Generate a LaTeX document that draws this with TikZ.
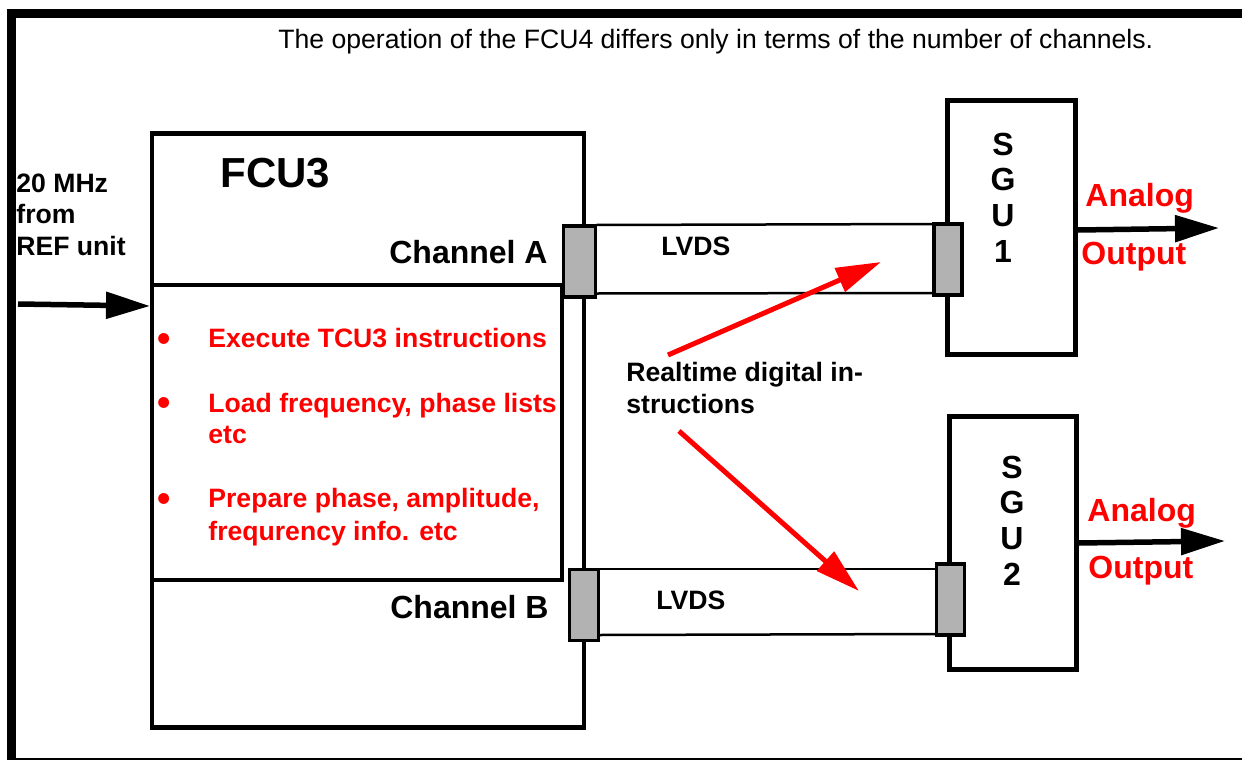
\documentclass[tikz,border=0pt]{standalone}
\usepackage{fontspec}
\setmainfont{Liberation Sans}
\usetikzlibrary{arrows.meta}

\begin{document}
\begin{tikzpicture}[x=0.5pt,y=-0.5pt,
        txt/.style={inner sep=0pt,font=\fontsize{13.3}{16}\selectfont},
        btxt/.style={inner sep=0pt,font=\fontsize{13.3}{16}\selectfont\bfseries},
        redtxt/.style={btxt,text=red},
        dot/.style={inner sep=0pt,text=red,font=\fontsize{19}{22}\selectfont\bfseries},
        big/.style={inner sep=0pt,font=\fontsize{16}{19}\selectfont\bfseries},
        unitbox/.style={draw,line width=2.5pt,inner sep=0pt},
        port/.style={draw,fill=gray!60,line width=1.75pt,inner sep=0pt,minimum height=35.5pt},
        tube/.style={line width=1.25pt},
        bigarrow/.style={line width=2.75pt,-{Triangle[length=22pt,width=13pt]}},
        redarrow/.style={red,line width=2.5pt,-{Triangle[length=22.5pt,width=12.5pt]}}]
        \useasboundingbox (0,0) rectangle (1242,760);

        % frame
        \draw[line width=4.5pt] (11.5,9) -- (11.5,760);
        \draw[line width=4.5pt] (7,13.5) -- (1242,13.5);
        \draw[line width=1pt] (7,758.5) -- (1242,758.5);

        \node[txt,anchor=base west] (note) at (278,48) {The operation of the FCU4 differs only in terms of the number of channels.};

        % FCU3
        \draw[line width=2.25pt] (152,133.5) rectangle (584,727.5);
        \draw[line width=2pt] (152,285) -| (562,580) -- (152,580);
        \node[inner sep=0pt,font=\fontsize{21}{25}\selectfont\bfseries,anchor=base west] (fcu) at (220,187) {FCU3};
        \node[big,anchor=base east] (cha) at (548,263) {Channel A};
        \node[big,anchor=base east] (chb) at (549,618) {Channel B};

        \node[dot] (dot1) at (164.5,342.5) {•};
        \node[redtxt,anchor=base west] (task1) at (208,347) {Execute TCU3 instructions};
        \node[dot] (dot2) at (164.5,407) {•};
        \node[redtxt,anchor=base west] (task2) at (208,412) {Load frequency, phase lists};
        \node[redtxt,anchor=base west] (task2b) at (208,443) {etc};
        \node[dot] (dot3) at (164.5,502.5) {•};
        \node[redtxt,anchor=base west] (task3) at (208,507) {Prepare phase, amplitude,};
        \node[redtxt,anchor=base west] (task3b) at (208,540) {frequrency info. etc};

        % reference clock in
        \node[btxt,anchor=base west] (ref1) at (16,192) {20 MHz};
        \node[btxt,anchor=base west] (ref2) at (16,223) {from};
        \node[btxt,anchor=base west] (ref3) at (16,255) {REF unit};
        \coordinate (refsrc) at (18,304);
        \coordinate (fcuin) at (150,306);
        \draw[bigarrow] (refsrc) -- (fcuin);

        % SGU boxes
        \node[unitbox,minimum width=64pt,minimum height=127.25pt] (sgu1) at (1011.5,227.25) {};
        \node[unitbox,minimum width=63.25pt,minimum height=126.5pt] (sgu2) at (1012.75,543) {};
        \foreach \ch [count=\i] in {S,G,U,1}
            \node[big,anchor=base] (sa\i) at (1003,{155+35.7*(\i-1)}) {\ch};
        \foreach \ch [count=\i] in {S,G,U,2}
            \node[big,anchor=base] (sb\i) at (1012,{478+35.7*(\i-1)}) {\ch};

        % LVDS links
        \draw[tube] (596,225) -- (934,224);
        \draw[tube] (596,293.5) -- (934,293);
        \draw[tube] (599,569) -- (936,569);
        \draw[tube] (599,635) -- (936,634);
        \node[port,minimum width=16pt] (pa1) at (579.5,261.5) {};
        \node[port,minimum width=14pt] (pa2) at (948,259.5) {};
        \node[port,minimum width=14.5pt] (pb1) at (584,605) {};
        \node[port,minimum width=14pt] (pb2) at (950.5,599.5) {};
        \node[btxt,anchor=base west] (lvds1) at (661,255) {LVDS};
        \node[btxt,anchor=base west] (lvds2) at (656,609) {LVDS};

        % realtime instructions
        \node[btxt,anchor=base west] (rt1) at (626,381) {Realtime digital in-};
        \node[btxt,anchor=base west] (rt2) at (626,413) {structions};
        \coordinate (rtup) at (668,355);
        \coordinate (rtupend) at (881,262);
        \coordinate (rtdn) at (679,431);
        \coordinate (rtdnend) at (859,591);
        \draw[redarrow] (rtup) -- (rtupend);
        \draw[redarrow] (rtdn) -- (rtdnend);

        % analog outputs
        \node[big,text=red,anchor=base west] (an1) at (1085,206) {Analog};
        \node[big,text=red,anchor=base west] (op1) at (1081,264) {Output};
        \node[big,text=red,anchor=base west] (an2) at (1087,521) {Analog};
        \node[big,text=red,anchor=base west] (op2) at (1088,578) {Output};
        \coordinate (out1) at (1219,228);
        \coordinate (out2) at (1225,541);
        \draw[bigarrow] (sgu1.east |- 0,230) -- (out1);
        \draw[bigarrow] (sgu2.east |- 0,543) -- (out2);
\end{tikzpicture}
\end{document}
